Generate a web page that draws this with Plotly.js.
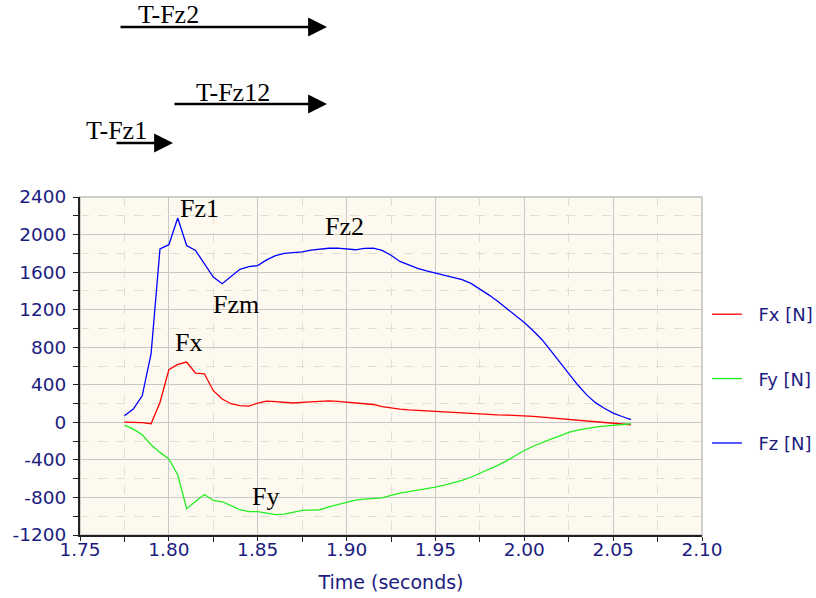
<!DOCTYPE html>
<html>
<head>
<meta charset="utf-8">
<script src="https://cdn.plot.ly/plotly-3.0.1.min.js"></script>
<style>
  html, body { margin: 0; padding: 0; background: #ffffff; }
  #chart { width: 816px; height: 598px; }
</style>
</head>
<body>
<div id="chart"></div>
<script>
// Ground reaction force components over the take-off phase
const time = [
  1.775, 1.780, 1.785, 1.790, 1.795, 1.800, 1.805, 1.810, 1.815, 1.820,
  1.825, 1.830, 1.835, 1.840, 1.845, 1.850, 1.855, 1.860, 1.865, 1.870,
  1.875, 1.880, 1.885, 1.890, 1.895, 1.900, 1.905, 1.910, 1.915, 1.920,
  1.925, 1.930, 1.935, 1.940, 1.945, 1.950, 1.955, 1.960, 1.965, 1.970,
  1.975, 1.980, 1.985, 1.990, 1.995, 2.000, 2.005, 2.010, 2.015, 2.020,
  2.025, 2.030, 2.035, 2.040, 2.045, 2.050, 2.055, 2.060
];

const fx = [
  2, 0, -3, -15, 212, 560, 617, 642, 525, 517,
  337, 248, 198, 177, 172, 205, 225, 220, 212, 206,
  212, 219, 222, 228, 224, 216, 208, 200, 190, 168,
  150, 140, 132, 126, 121, 117, 112, 106, 100, 95,
  90, 84, 80, 77, 74, 70, 63, 55, 47, 40,
  33, 25, 17, 9, 1, -8, -16, -26
];

const fy = [
  -29, -72, -132, -239, -320, -391, -558, -920, -842, -768,
  -832, -846, -888, -931, -952, -952, -966, -984, -977, -955,
  -938, -935, -931, -900, -875, -853, -828, -818, -815, -805,
  -778, -753, -738, -723, -705, -689, -668, -645, -618, -585,
  -545, -500, -458, -410, -355, -300, -255, -215, -180, -145,
  -108, -82, -64, -50, -40, -30, -22, -15
];

const fz = [
  70, 142, 283, 731, 1846, 1892, 2176, 1884, 1831, 1689,
  1547, 1476, 1554, 1630, 1658, 1670, 1730, 1776, 1800, 1808,
  1815, 1835, 1846, 1854, 1856, 1849, 1838, 1852, 1856, 1832,
  1780, 1714, 1675, 1640, 1612, 1590, 1570, 1550, 1520, 1480,
  1420, 1358, 1290, 1217, 1142, 1064, 975, 880, 762, 640,
  518, 400, 295, 210, 150, 99, 62, 28
];

const seriesNames = ['Fx [N]', 'Fy [N]', 'Fz [N]'];
const seriesColors = ['#ff0000', '#22ee22', '#0000ff'];

// Force axis ticks, written with a plain hyphen for negatives
const forceTickVals = [-1200, -800, -400, 0, 400, 800, 1200, 1600, 2000, 2400];
const forceTickText = ['-1200', '-800', '-400', '0', '400', '800', '1200', '1600', '2000', '2400'];

// Labels of the force features, placed on the curves
const peakLabels = ['Fz1', 'Fzm', 'Fx', 'Fz2', 'Fy'];

// Phase durations drawn as arrows above the chart
const phaseLabels = ['T-Fz2', 'T-Fz12', 'T-Fz1'];

const axisColor = '#1c1c80';
const sans = 'DejaVu Sans, Verdana, sans-serif';

const traces = [fx, fy, fz].map((vals, i) => ({
  type: 'scatter',
  mode: 'lines',
  x: time,
  y: vals,
  name: '\u00a0\u00a0' + seriesNames[i],
  legendgroup: 'g' + i,
  line: { color: seriesColors[i], width: 1.3 },
  hoverinfo: 'x+y+name'
}));

// plot area in pixels: x 80..702, y 197..535
const W = 816, H = 598;
const L = 80, R = 114, T = 197, B = 63;
const pw = W - L - R, ph = H - T - B;
const px = v => (v - L) / pw;
const py = v => (H - B - v) / ph;

const serif = { family: 'Liberation Serif, Times New Roman, serif', size: 26, color: '#000000' };

const annotations = [];
// feature labels: [text, centre x px, centre y px]
const peakPos = [[199, 208], [236, 304], [188, 342], [344, 226], [265, 496]];
peakLabels.forEach((t, i) => {
  annotations.push({
    xref: 'paper', yref: 'paper', x: px(peakPos[i][0]), y: py(peakPos[i][1]),
    xanchor: 'center', yanchor: 'middle', text: t, showarrow: false, font: serif
  });
});

// phase arrows: label centre, arrow tail x, arrow tip x, arrow y
const phasePos = [
  { tx: 168, ty: 15, x0: 119, x1: 327, y: 27 },
  { tx: 233, ty: 92, x0: 173, x1: 327, y: 104 },
  { tx: 116, ty: 130, x0: 115, x1: 173, y: 143 }
];
phaseLabels.forEach((t, i) => {
  const p = phasePos[i];
  annotations.push({
    xref: 'paper', yref: 'paper', x: px(p.x1), y: py(p.y),
    ax: -(p.x1 - p.x0), ay: 0, axref: 'pixel', ayref: 'pixel',
    text: '', showarrow: true, arrowhead: 2, arrowsize: 1.45, arrowwidth: 2.6,
    arrowcolor: '#000000', standoff: 0, startstandoff: 0
  });
  annotations.push({
    xref: 'paper', yref: 'paper', x: px(p.tx), y: py(p.ty),
    xanchor: 'center', yanchor: 'middle', text: t, showarrow: false, font: serif
  });
});

const layout = {
  width: W,
  height: H,
  margin: { l: L, r: R, t: T, b: B, autoexpand: false },
  font: { family: sans, size: 19, color: axisColor },
  paper_bgcolor: '#ffffff',
  plot_bgcolor: '#fdf9ee',
  showlegend: true,
  legend: {
    x: px(707), xanchor: 'left',
    y: py(296), yanchor: 'top',
    bgcolor: 'rgba(0,0,0,0)',
    font: { family: sans, size: 18, color: axisColor },
    tracegroupgap: 38,
    itemclick: false
  },
  xaxis: {
    range: [1.75, 2.10],
    tick0: 1.75,
    dtick: 0.05,
    tickformat: '.2f',
    ticks: 'outside',
    ticklen: 4,
    tickcolor: '#222222',
    tickfont: { family: sans, size: 18.5, color: axisColor },
    ticklabelstandoff: -7,
    showline: true,
    linecolor: '#222222',
    linewidth: 2,
    showgrid: true,
    gridcolor: '#c8c8c8',
    gridwidth: 1,
    zeroline: false,
    minor: {
      tickmode: 'linear',
      tick0: 1.75,
      dtick: 0.025,
      ticks: 'outside',
      ticklen: 5,
      tickcolor: '#222222',
      showgrid: true,
      gridcolor: '#e2ded4',
      griddash: 'dash',
      gridwidth: 1
    },
    title: {
      text: 'Time (seconds)',
      font: { family: sans, size: 19, color: axisColor },
      standoff: 16
    }
  },
  yaxis: {
    range: [-1200, 2400],
    tickmode: 'array',
    tickvals: forceTickVals,
    ticktext: forceTickText,
    ticks: 'outside',
    ticklen: 4,
    tickcolor: '#222222',
    tickfont: { family: sans, size: 18.5, color: axisColor },
    ticklabelstandoff: 4,
    showline: true,
    linecolor: '#222222',
    linewidth: 2,
    showgrid: true,
    gridcolor: '#c8c8c8',
    gridwidth: 1,
    zeroline: false,
    minor: {
      tickmode: 'linear',
      tick0: 0,
      dtick: 200,
      ticks: 'outside',
      ticklen: 5,
      tickcolor: '#222222',
      showgrid: true,
      gridcolor: '#e2ded4',
      griddash: 'dash',
      gridwidth: 1
    }
  },
  shapes: [{
    type: 'rect', xref: 'paper', yref: 'paper', x0: 0, x1: 1, y0: 0, y1: 1,
    line: { color: '#cfcfcf', width: 2 }, fillcolor: 'rgba(0,0,0,0)', layer: 'below'
  }],
  annotations: annotations
};

Plotly.newPlot('chart', traces, layout, { displayModeBar: false, staticPlot: true });
</script>
</body>
</html>
